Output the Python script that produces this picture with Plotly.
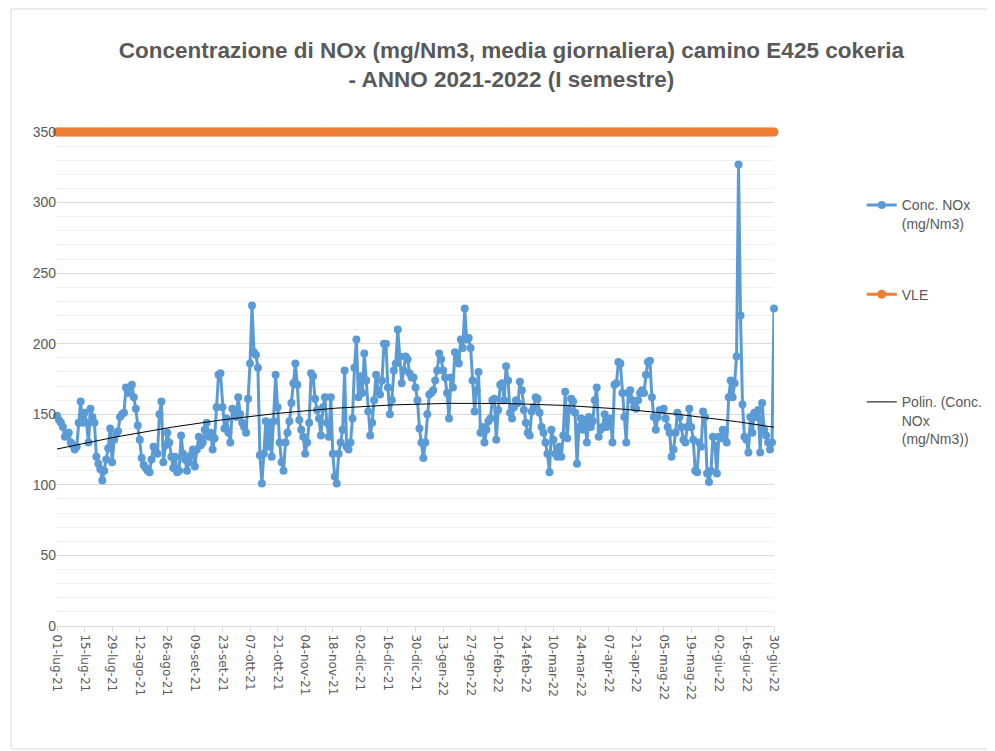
import numpy as np
import pandas as pd
import plotly.graph_objects as go

# daily NOx averages (mg/Nm3), 01-lug-21 .. 30-giu-22
nox_lug_ago = [149, 146, 144, 141, 134, 136, 137, 130, 128, 125, 127, 144, 159, 144, 151,
               144, 130, 154, 148, 144, 120, 115, 111, 103, 110, 118, 126, 140, 116, 132,
               136, 138, 148, 150, 151, 169, 165, 168, 171, 162, 154, 142, 132, 119, 114,
               112, 110, 109, 118, 127, 124, 122, 150, 159, 116, 128, 137, 130, 120, 112]
nox_ago_ott = [120, 109, 110, 135, 122, 118, 110, 116, 121, 125, 113, 125, 134, 128, 130,
               139, 144, 134, 137, 125, 133, 155, 178, 179, 155, 140, 147, 137, 130, 154,
               153, 148, 162, 150, 144, 141, 137, 161, 186, 227, 194, 192, 183, 121, 101,
               122, 145, 127, 144, 120, 145, 178, 155, 130, 116, 110, 130, 137, 145, 158, 172]
nox_ott_dic = [186, 171, 146, 139, 134, 122, 130, 144, 179, 177, 161, 153, 147, 135, 155,
               162, 144, 134, 162, 122, 106, 101, 122, 130, 139, 181, 127, 125, 130, 147,
               183, 203, 162, 177, 165, 193, 174, 152, 135, 144, 160, 178, 167, 164, 174,
               200, 200, 169, 150, 160, 181, 186, 210, 191, 172, 181, 191, 189, 179, 176]
nox_dic_feb = [176, 169, 160, 140, 130, 119, 130, 150, 164, 165, 167, 174, 181, 193, 189,
               181, 176, 165, 147, 176, 169, 194, 189, 186, 203, 197, 225, 203, 204, 197,
               174, 152, 167, 180, 137, 141, 130, 139, 145, 147, 160, 161, 132, 153, 171,
               172, 160, 184, 174, 151, 147, 155, 160, 158, 173, 167, 153, 144, 137, 135,
               152, 155, 162]
nox_mar_apr = [161, 151, 141, 137, 130, 122, 109, 139, 132, 122, 120, 127, 120, 135, 166,
               133, 153, 161, 159, 151, 115, 141, 147, 139, 146, 130, 148, 141, 145, 160,
               169, 134, 139, 141, 150, 141, 145, 147, 130, 171, 172, 187, 186, 165, 148,
               130, 165, 167, 160, 155, 154, 160, 165, 167, 165, 178, 187, 188, 162, 148, 139]
nox_mag_giu = [148, 153, 153, 154, 147, 141, 137, 120, 125, 137, 151, 148, 141, 132, 130,
               141, 154, 141, 132, 110, 109, 130, 127, 152, 148, 108, 102, 110, 134, 128,
               108, 134, 133, 139, 138, 130, 162, 174, 162, 172, 191, 327, 220, 157, 134,
               132, 123, 148, 137, 151, 148, 153, 123, 158, 139, 135, 130, 125, 130, 225]

vle_value = 350

tick_labels = ["01-lug-21", "15-lug-21", "29-lug-21", "12-ago-21", "26-ago-21", "09-set-21",
               "23-set-21", "07-ott-21", "21-ott-21", "04-nov-21", "18-nov-21", "02-dic-21",
               "16-dic-21", "30-dic-21", "13-gen-22", "27-gen-22", "10-feb-22", "24-feb-22",
               "10-mar-22", "24-mar-22", "07-apr-22", "21-apr-22", "05-mag-22", "19-mag-22",
               "02-giu-22", "16-giu-22", "30-giu-22"]

conc = np.array(nox_lug_ago + nox_ago_ott + nox_ott_dic + nox_dic_feb + nox_mar_apr + nox_mag_giu, float)
dates = pd.date_range("2021-07-01", "2022-06-30", freq="D")
assert len(conc) == len(dates)

# excel-style polynomial (order 2) trendline
idx = np.arange(1, len(conc) + 1)
trend = np.polyval(np.polyfit(idx, conc, 2), idx)

tick_vals = dates[::14]

BLUE = "#5B9BD5"
ORANGE = "#ED7D31"
GREY = "#595959"
FONT = "Liberation Sans, Arial, sans-serif"

fig = go.Figure()
fig.add_trace(go.Scatter(
    x=dates, y=conc, name="Conc. NOx<br>(mg/Nm3)", legendgroup="a",
    mode="lines+markers", line=dict(color=BLUE, width=3),
    marker=dict(color=BLUE, size=8), cliponaxis=False,
))
fig.add_trace(go.Scatter(
    x=dates, y=[vle_value] * len(dates), name="VLE<br> <br> ", legendgroup="b",
    mode="lines+markers", line=dict(color=ORANGE, width=3),
    marker=dict(color=ORANGE, size=9), cliponaxis=False,
))
fig.add_trace(go.Scatter(
    x=dates, y=trend, name="Polin. (Conc.<br>NOx<br>(mg/Nm3))", legendgroup="c",
    mode="lines", line=dict(color="black", width=1),
))

# page body adds ~8px offset, so the figure is 8px smaller than the window
fig.update_layout(
    width=987, height=743,
    paper_bgcolor="white", plot_bgcolor="white",
    margin=dict(l=49, r=221, t=124, b=125),
    title=dict(
        text="<b>Concentrazione di NOx (mg/Nm3, media giornaliera) camino E425 cokeria<br>- ANNO 2021-2022 (I semestre)</b>",
        x=0.51, xanchor="center", xref="container",
        y=0.933, yanchor="middle", yref="container",
        font=dict(family=FONT, size=22.5, color=GREY),
    ),
    legend=dict(
        xref="container", yref="container",
        x=0.865, xanchor="left", y=0.756, yanchor="top",
        valign="top", tracegroupgap=50,
        font=dict(family=FONT, size=14, color=GREY),
        bgcolor="rgba(0,0,0,0)",
    ),
    showlegend=True,
    xaxis=dict(
        type="date",
        range=[dates[0], dates[-1]],
        tickmode="array", tickvals=tick_vals, ticktext=tick_labels,
        tickangle=90,
        tickfont=dict(family="DejaVu Sans", size=12, color=GREY),
        ticks="outside", ticklen=5, tickcolor="#d9d9d9",
        showgrid=False, zeroline=False,
        showline=True, linecolor="#d9d9d9", linewidth=1,
    ),
    yaxis=dict(
        range=[0, 350], dtick=50,
        tickfont=dict(family=FONT, size=14, color=GREY),
        showgrid=True, gridcolor="#d9d9d9", gridwidth=1,
        minor=dict(dtick=10, showgrid=True, gridcolor="#f0f0f0"),
        zeroline=False, showline=False, ticks="",
    ),
    shapes=[dict(
        type="rect", xref="paper", yref="paper",
        x0=-0.064, x1=1.45, y0=-0.249, y1=1.249,
        line=dict(color="#d9d9d9", width=1), fillcolor="rgba(0,0,0,0)", layer="below",
    )],
)

fig.write_html("out.html")
